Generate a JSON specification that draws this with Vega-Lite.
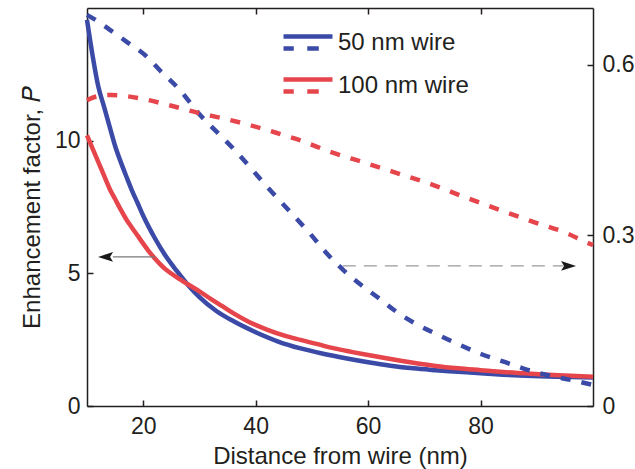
{
  "$schema": "https://vega.github.io/schema/vega-lite/v6.json",
  "width": 506,
  "height": 398,
  "autosize": {"type": "none"},
  "padding": {"left": 87, "top": 8, "right": 42, "bottom": 63},
  "background": "white",
  "config": {
    "view": {"stroke": null},
    "font": "Liberation Sans",
    "axis": {
      "labelFont": "Liberation Sans",
      "titleFont": "Liberation Sans",
      "labelFontSize": 23,
      "titleFontSize": 24,
      "titleFontWeight": "normal",
      "labelColor": "#231f20",
      "titleColor": "#231f20",
      "domainColor": "#231f20",
      "tickColor": "#231f20",
      "domainWidth": 1.5,
      "tickWidth": 1.5,
      "tickSize": -6,
      "grid": false
    }
  },
  "datasets": {
    "solid": [
      {"x": 10, "wire": "50 nm wire", "P": 14.55},
      {"x": 11, "wire": "50 nm wire", "P": 13.2},
      {"x": 12, "wire": "50 nm wire", "P": 12.05},
      {"x": 13, "wire": "50 nm wire", "P": 11.3},
      {"x": 14, "wire": "50 nm wire", "P": 10.55},
      {"x": 15, "wire": "50 nm wire", "P": 9.8},
      {"x": 16, "wire": "50 nm wire", "P": 9.2},
      {"x": 17, "wire": "50 nm wire", "P": 8.65},
      {"x": 18, "wire": "50 nm wire", "P": 8.12},
      {"x": 19, "wire": "50 nm wire", "P": 7.65},
      {"x": 20, "wire": "50 nm wire", "P": 7.17},
      {"x": 22, "wire": "50 nm wire", "P": 6.35},
      {"x": 24, "wire": "50 nm wire", "P": 5.65},
      {"x": 26, "wire": "50 nm wire", "P": 5.08},
      {"x": 28, "wire": "50 nm wire", "P": 4.55},
      {"x": 30, "wire": "50 nm wire", "P": 4.1},
      {"x": 33, "wire": "50 nm wire", "P": 3.58},
      {"x": 36, "wire": "50 nm wire", "P": 3.2},
      {"x": 40, "wire": "50 nm wire", "P": 2.78},
      {"x": 44, "wire": "50 nm wire", "P": 2.43},
      {"x": 48, "wire": "50 nm wire", "P": 2.17},
      {"x": 52, "wire": "50 nm wire", "P": 1.97},
      {"x": 56, "wire": "50 nm wire", "P": 1.8},
      {"x": 60, "wire": "50 nm wire", "P": 1.65},
      {"x": 64, "wire": "50 nm wire", "P": 1.52},
      {"x": 68, "wire": "50 nm wire", "P": 1.42},
      {"x": 72, "wire": "50 nm wire", "P": 1.35},
      {"x": 76, "wire": "50 nm wire", "P": 1.29},
      {"x": 80, "wire": "50 nm wire", "P": 1.23},
      {"x": 84, "wire": "50 nm wire", "P": 1.18},
      {"x": 88, "wire": "50 nm wire", "P": 1.14},
      {"x": 92, "wire": "50 nm wire", "P": 1.11},
      {"x": 96, "wire": "50 nm wire", "P": 1.09},
      {"x": 100, "wire": "50 nm wire", "P": 1.07},
      {"x": 10, "wire": "100 nm wire", "P": 10.2},
      {"x": 11, "wire": "100 nm wire", "P": 9.7},
      {"x": 12, "wire": "100 nm wire", "P": 9.2},
      {"x": 13, "wire": "100 nm wire", "P": 8.7},
      {"x": 14, "wire": "100 nm wire", "P": 8.2},
      {"x": 15, "wire": "100 nm wire", "P": 7.8},
      {"x": 16, "wire": "100 nm wire", "P": 7.4},
      {"x": 17, "wire": "100 nm wire", "P": 7.03},
      {"x": 18, "wire": "100 nm wire", "P": 6.72},
      {"x": 19, "wire": "100 nm wire", "P": 6.42},
      {"x": 20, "wire": "100 nm wire", "P": 6.12},
      {"x": 21, "wire": "100 nm wire", "P": 5.83},
      {"x": 22, "wire": "100 nm wire", "P": 5.58},
      {"x": 23, "wire": "100 nm wire", "P": 5.35},
      {"x": 24, "wire": "100 nm wire", "P": 5.15},
      {"x": 26, "wire": "100 nm wire", "P": 4.85},
      {"x": 28, "wire": "100 nm wire", "P": 4.58},
      {"x": 30, "wire": "100 nm wire", "P": 4.32},
      {"x": 32, "wire": "100 nm wire", "P": 4.04},
      {"x": 34, "wire": "100 nm wire", "P": 3.77},
      {"x": 36, "wire": "100 nm wire", "P": 3.5},
      {"x": 39, "wire": "100 nm wire", "P": 3.15},
      {"x": 42, "wire": "100 nm wire", "P": 2.88},
      {"x": 45, "wire": "100 nm wire", "P": 2.66},
      {"x": 48, "wire": "100 nm wire", "P": 2.49},
      {"x": 51, "wire": "100 nm wire", "P": 2.33},
      {"x": 54, "wire": "100 nm wire", "P": 2.17},
      {"x": 57, "wire": "100 nm wire", "P": 2.04},
      {"x": 60, "wire": "100 nm wire", "P": 1.92},
      {"x": 64, "wire": "100 nm wire", "P": 1.77},
      {"x": 68, "wire": "100 nm wire", "P": 1.63},
      {"x": 72, "wire": "100 nm wire", "P": 1.51},
      {"x": 76, "wire": "100 nm wire", "P": 1.42},
      {"x": 80, "wire": "100 nm wire", "P": 1.35},
      {"x": 84, "wire": "100 nm wire", "P": 1.28},
      {"x": 88, "wire": "100 nm wire", "P": 1.23},
      {"x": 92, "wire": "100 nm wire", "P": 1.18},
      {"x": 96, "wire": "100 nm wire", "P": 1.14},
      {"x": 100, "wire": "100 nm wire", "P": 1.1}
    ],
    "dashed": [
      {"x": 10, "wire": "50 nm wire", "R": 0.688},
      {"x": 12, "wire": "50 nm wire", "R": 0.676},
      {"x": 14, "wire": "50 nm wire", "R": 0.662},
      {"x": 17, "wire": "50 nm wire", "R": 0.641},
      {"x": 20.7, "wire": "50 nm wire", "R": 0.614},
      {"x": 23, "wire": "50 nm wire", "R": 0.59},
      {"x": 26.5, "wire": "50 nm wire", "R": 0.556},
      {"x": 30, "wire": "50 nm wire", "R": 0.513},
      {"x": 33, "wire": "50 nm wire", "R": 0.483},
      {"x": 36, "wire": "50 nm wire", "R": 0.453},
      {"x": 39, "wire": "50 nm wire", "R": 0.42},
      {"x": 42, "wire": "50 nm wire", "R": 0.386},
      {"x": 46, "wire": "50 nm wire", "R": 0.343},
      {"x": 49.6, "wire": "50 nm wire", "R": 0.304},
      {"x": 52.5, "wire": "50 nm wire", "R": 0.27},
      {"x": 55.6, "wire": "50 nm wire", "R": 0.239},
      {"x": 58.6, "wire": "50 nm wire", "R": 0.214},
      {"x": 62, "wire": "50 nm wire", "R": 0.189},
      {"x": 65, "wire": "50 nm wire", "R": 0.166},
      {"x": 68.6, "wire": "50 nm wire", "R": 0.144},
      {"x": 72.5, "wire": "50 nm wire", "R": 0.125},
      {"x": 76.4, "wire": "50 nm wire", "R": 0.107},
      {"x": 80.2, "wire": "50 nm wire", "R": 0.091},
      {"x": 84.4, "wire": "50 nm wire", "R": 0.077},
      {"x": 88.2, "wire": "50 nm wire", "R": 0.064},
      {"x": 92, "wire": "50 nm wire", "R": 0.054},
      {"x": 96.5, "wire": "50 nm wire", "R": 0.045},
      {"x": 100, "wire": "50 nm wire", "R": 0.037},
      {"x": 10, "wire": "100 nm wire", "R": 0.538},
      {"x": 12, "wire": "100 nm wire", "R": 0.545},
      {"x": 14.4, "wire": "100 nm wire", "R": 0.547},
      {"x": 17, "wire": "100 nm wire", "R": 0.545},
      {"x": 20, "wire": "100 nm wire", "R": 0.54},
      {"x": 25, "wire": "100 nm wire", "R": 0.528},
      {"x": 30, "wire": "100 nm wire", "R": 0.515},
      {"x": 35, "wire": "100 nm wire", "R": 0.504},
      {"x": 39, "wire": "100 nm wire", "R": 0.494},
      {"x": 43.5, "wire": "100 nm wire", "R": 0.481},
      {"x": 48, "wire": "100 nm wire", "R": 0.467},
      {"x": 53, "wire": "100 nm wire", "R": 0.448},
      {"x": 59.7, "wire": "100 nm wire", "R": 0.427},
      {"x": 65, "wire": "100 nm wire", "R": 0.41},
      {"x": 71.5, "wire": "100 nm wire", "R": 0.389},
      {"x": 77, "wire": "100 nm wire", "R": 0.368},
      {"x": 83.4, "wire": "100 nm wire", "R": 0.345},
      {"x": 89, "wire": "100 nm wire", "R": 0.325},
      {"x": 95.3, "wire": "100 nm wire", "R": 0.304},
      {"x": 98.8, "wire": "100 nm wire", "R": 0.288},
      {"x": 100, "wire": "100 nm wire", "R": 0.283}
    ]
  },
  "layer": [
    {
      "layer": [
        {
          "data": {"name": "solid"},
          "mark": {"type": "line", "strokeWidth": 4.5, "interpolate": "monotone"},
          "encoding": {
            "x": {"field": "x", "type": "quantitative", "scale": {"domain": [10, 100], "nice": false},
                  "axis": {"title": "Distance from wire (nm)", "values": [20, 40, 60, 80], "labelPadding": 15, "titlePadding": 6}},
            "y": {"field": "P", "type": "quantitative", "scale": {"domain": [0, 15], "nice": false},
                  "axis": {"title": "Enhancement factor, 𝑃", "values": [0, 5, 10], "labelPadding": 13, "titlePadding": 10}},
            "color": {"field": "wire", "type": "nominal",
                      "scale": {"domain": ["50 nm wire", "100 nm wire"], "range": ["#3a4aa6", "#e5454b"]},
                      "legend": {"title": null, "orient": "none", "legendX": 194, "legendY": 7.5,
                                 "symbolType": "M-1,-0.245H1M-1,0.245H-0.58M-0.03,0.245H0.44",
                                 "symbolSize": 2401, "symbolStrokeWidth": 4.5, "symbolDash": [1, 0],
                                 "labelFont": "Liberation Sans", "labelFontSize": 24, "labelColor": "#231f20",
                                 "labelOffset": 3, "rowPadding": -1.5}}
          }
        },
        {
          "data": {"values": [{"x": 22.1, "xend": 14.6, "P": 5.62}]},
          "mark": {"type": "rule", "color": "#7a7a7a", "strokeWidth": 1.2},
          "encoding": {
            "x": {"field": "x", "type": "quantitative"},
            "x2": {"field": "xend"},
            "y": {"field": "P", "type": "quantitative"}
          }
        },
        {
          "data": {"values": [{"x": 55.5, "xend": 94.7, "P": 5.28}]},
          "mark": {"type": "rule", "color": "#9a9a9a", "strokeWidth": 1.2, "strokeDash": [13, 8]},
          "encoding": {
            "x": {"field": "x", "type": "quantitative"},
            "x2": {"field": "xend"},
            "y": {"field": "P", "type": "quantitative"}
          }
        },
        {
          "data": {"values": [{"x": 13.3, "P": 5.62}]},
          "mark": {"type": "point", "shape": "M-1,0L1,-0.65L0.6,0L1,0.65Z", "filled": true, "size": 225, "color": "#1a1a1a", "opacity": 1},
          "encoding": {
            "x": {"field": "x", "type": "quantitative"},
            "y": {"field": "P", "type": "quantitative"}
          }
        },
        {
          "data": {"values": [{"x": 95.65, "P": 5.28}]},
          "mark": {"type": "point", "shape": "M1,0L-1,-0.65L-0.6,0L-1,0.65Z", "filled": true, "size": 225, "color": "#1a1a1a", "opacity": 1},
          "encoding": {
            "x": {"field": "x", "type": "quantitative"},
            "y": {"field": "P", "type": "quantitative"}
          }
        }
      ]
    },
    {
      "data": {"name": "dashed"},
      "mark": {"type": "line", "strokeWidth": 4.5, "strokeDash": [10, 11], "interpolate": "monotone"},
      "encoding": {
        "x": {"field": "x", "type": "quantitative", "scale": {"domain": [10, 100], "nice": false},
              "axis": {"orient": "top", "title": null, "labels": false, "values": [20, 40, 60, 80]}},
        "y": {"field": "R", "type": "quantitative", "scale": {"domain": [0, 0.7], "nice": false},
              "axis": {"orient": "right", "title": null, "values": [0, 0.3, 0.6], "format": "~g", "labelPadding": 15}},
        "color": {"field": "wire", "type": "nominal"}
      }
    }
  ],
  "resolve": {"scale": {"y": "independent"}, "axis": {"x": "independent", "y": "independent"}}
}
